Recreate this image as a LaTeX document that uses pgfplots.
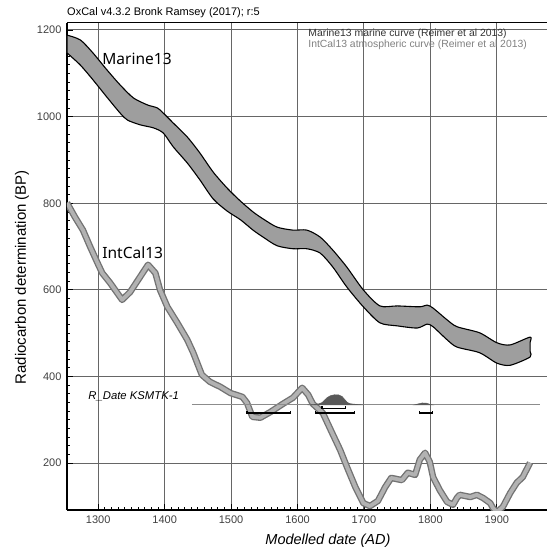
\documentclass[border=0pt]{standalone}
\usepackage{fontspec}
\setmainfont{Liberation Sans}
\newfontfamily\curvefont{Noto Sans}
\usepackage{pgfplots}
\pgfplotsset{compat=1.18}

\definecolor{gridc}{gray}{0.40}
\definecolor{marinefill}{gray}{0.62}
\definecolor{intedge}{gray}{0.45}
\definecolor{intfill}{gray}{0.70}
\definecolor{distfill}{gray}{0.35}

% IntCal13 curve (AD, BP)
\pgfplotstableread{
x y
1253 801
1265 768
1277 738
1288 699
1299 662
1306 639
1318 616
1336 577
1348 595
1363 630
1375 658
1386 639
1393 600
1404 561
1419 524
1434 485
1443 455
1456 404
1468 388
1484 376
1499 362
1517 353
1524 339
1532 307
1544 305
1559 318
1578 337
1593 351
1607 374
1616 358
1623 337
1638 316
1652 270
1664 231
1675 189
1687 145
1699 108
1709 101
1721 113
1732 145
1741 166
1757 161
1766 178
1777 173
1784 208
1792 224
1799 203
1804 168
1814 138
1825 111
1834 104
1840 120
1844 127
1860 122
1870 127
1879 120
1890 108
1894 97
1900 87
1909 99
1920 131
1930 155
1939 168
1950 201
}\intcal

\begin{document}
\begin{tikzpicture}
\begin{axis}[
  scale only axis, width=485pt, height=487pt,
  xmin=1253, xmax=1983, ymin=92, ymax=1216,
  axis x line*=bottom, axis y line*=left,
  axis line style={line width=2.2pt, black},
  xtick={1300,1400,...,1900}, ytick={200,400,...,1200},
  minor x tick num=9, minor y tick num=9,
  tick align=inside, major tick length=6pt, minor tick length=3pt,
  tick style={black, line width=0.8pt},
  grid=major, major grid style={gridc, line width=1pt},
  /pgf/number format/1000 sep={},
  /pgf/number format/assume math mode=true,
  ticklabel style={font=\fontsize{11}{13}\selectfont, text=black!75},
  xticklabel style={yshift=-2pt},
  yticklabel style={xshift=-2pt},
  xlabel={\itshape Modelled date (AD)},
  ylabel={Radiocarbon determination (BP)},
  xlabel style={font=\fontsize{14.5}{16}\selectfont, at={(axis description cs:0.538,-0.064)}, anchor=center},
  ylabel style={font=\fontsize{15}{17}\selectfont, at={(axis description cs:-0.093,0.478)}, anchor=center},
]
% Marine13 band
\addplot[fill=marinefill, draw=black, line width=1.1pt, line join=round, smooth, tension=0.45] coordinates {
(1253,1188) (1273,1177) (1292,1147) (1313,1108) (1333,1073) (1353,1043) (1374,1027)
(1389,1020) (1398,1008) (1413,985) (1434,953) (1453,916) (1473,872) (1494,835)
(1514,805) (1533,780) (1548,764) (1569,745) (1593,738) (1614,738) (1634,722)
(1653,692) (1674,653) (1699,600) (1724,563) (1750,563) (1784,561) (1795,565)
(1804,558) (1825,531) (1840,515) (1874,501) (1900,478) (1920,473) (1950,491)
(1950,478) (1950,458)
(1950,445) (1920,426) (1900,431) (1874,455) (1840,468) (1825,485) (1804,515)
(1795,521) (1780,512) (1750,517) (1724,524) (1699,561) (1674,607) (1653,653)
(1634,685) (1614,695) (1593,695) (1569,702) (1548,722) (1533,738) (1514,762)
(1494,782) (1473,810) (1453,854) (1434,893) (1413,930) (1398,962) (1383,974)
(1363,981) (1344,992) (1333,1008) (1313,1045) (1292,1085) (1273,1119) (1253,1147)
} -- cycle;
% IntCal13 band
\addplot[intedge, line width=6.5pt, line join=round] table[x=x, y=y] {\intcal};
\addplot[intfill, line width=3.8pt, line join=round] table[x=x, y=y] {\intcal};
% R_Date baseline and distribution
\addplot[black!45, line width=0.9pt] coordinates {(1441,334.5) (1965,334.5)};
\addplot[fill=distfill, draw=distfill, line width=0.5pt] coordinates {
(1615,334.5) (1625,335.5) (1632,337) (1637,340) (1641,346) (1645,352) (1650,356)
(1656,358) (1662,357.5) (1667,354) (1671,347) (1675,340) (1680,337) (1690,335.5) (1700,334.5)
} -- cycle;
\addplot[fill=distfill, draw=distfill, line width=0.5pt] coordinates {
(1776,334.5) (1782,337) (1788,339) (1794,338.5) (1799,336) (1803,334.5)
} -- cycle;
% 68.2% range
\addplot[black, line width=1.3pt] coordinates {(1637,331) (1637,326) (1672,326) (1672,331)};
% 95.4% ranges
\addplot[black, line width=1.3pt] coordinates {(1524,321) (1524,316) (1589,316) (1589,321)};
\addplot[black, line width=1.3pt] coordinates {(1627,321) (1627,316) (1686,316) (1686,321)};
\addplot[black, line width=1.3pt] coordinates {(1784,321) (1784,316) (1803,316) (1803,321)};
% labels
\node[anchor=west, font=\curvefont\fontsize{15.5}{17}\selectfont, inner sep=0pt] at (axis cs:1306,1133) {Marine13};
\node[anchor=west, font=\curvefont\fontsize{15.5}{17}\selectfont, inner sep=0pt] at (axis cs:1306,685) {IntCal13};
\node[anchor=west, font=\itshape\fontsize{11.3}{13}\selectfont, inner sep=0pt] at (axis cs:1285,355) {R\_Date KSMTK-1};
\node[anchor=west, font=\fontsize{10.4}{11}\selectfont, text=black!80, inner sep=0pt] at (axis cs:1616,1191) {Marine13 marine curve (Reimer et al 2013)};
\node[anchor=west, font=\fontsize{10.4}{11}\selectfont, text=black!50, inner sep=0pt] at (axis cs:1616,1165) {IntCal13 atmospheric curve (Reimer et al 2013)};
\draw[black, line width=1pt] (rel axis cs:0,1) -- (rel axis cs:1,1);
\coordinate (SW) at (rel axis cs:0,0);
\coordinate (TL) at (rel axis cs:0,1);
\end{axis}
\node[anchor=west, font=\fontsize{11}{12}\selectfont, inner sep=0pt] at ([yshift=10pt]TL) {OxCal v4.3.2 Bronk Ramsey (2017); r:5};
\pgfresetboundingbox
\path[use as bounding box] (SW) ++(-67pt,-37pt) rectangle ++(547pt,547pt);
\end{tikzpicture}
\end{document}
